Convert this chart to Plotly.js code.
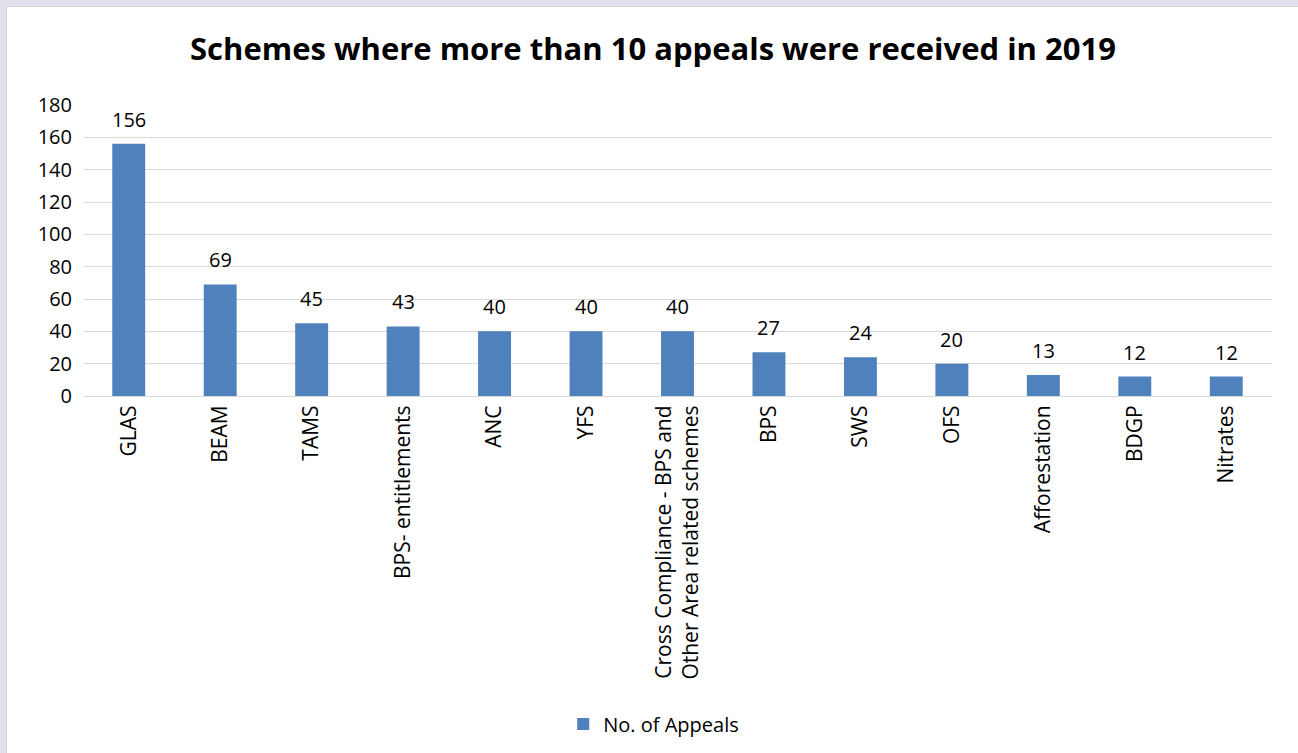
<!DOCTYPE html>
<html>
<head>
<meta charset="utf-8">
<script src="https://cdn.plot.ly/plotly-3.0.1.min.js"></script>
<style>
html,body{margin:0;padding:0;background:#e4dfec;width:1298px;height:753px;overflow:hidden;}
#frame{position:absolute;left:6px;top:6px;width:1292px;height:747px;background:#fff;border-left:1px solid #d6d2dc;border-top:1px solid #d6d2dc;}
#chart{width:1292px;height:747px;}
</style>
</head>
<body>
<div id="frame"><div id="chart"></div></div>
<script>
const categories = ["GLAS","BEAM","TAMS","BPS- entitlements","ANC","YFS","Cross Compliance - BPS and<br>Other Area related schemes","BPS","SWS","OFS","Afforestation","BDGP","Nitrates"];
const appeals = [156,69,45,43,40,40,40,27,24,20,13,12,12];
const seriesName = "No. of Appeals";
const yTicks = [0,20,40,60,80,100,120,140,160,180];

const font = "Open Sans, Liberation Sans, sans-serif";
const trace = {
  type: "bar",
  x: categories,
  y: appeals,
  name: seriesName,
  marker: {color: "#4f81bd"},
  width: 0.36,
  showlegend: true
};
const annotations = categories.map((c, i) => ({
  x: c, y: appeals[i], xref: "x", yref: "y",
  text: String(appeals[i]), showarrow: false,
  yanchor: "bottom", yshift: 9,
  font: {family: font, size: 20, color: "#000"}
}));
const layout = {
  width: 1292, height: 747,
  paper_bgcolor: "#fff", plot_bgcolor: "#fff",
  margin: {l: 76, r: 27, t: 98, b: 357},
  title: {text: "<b>Schemes where more than 10 appeals were received in 2019</b>", font: {family: font, size: 31, color: "#000"}, x: 0.5, xanchor: "center", y: 0.943, yanchor: "middle"},
  xaxis: {tickangle: -90, tickfont: {family: font, size: 21, color: "#000"}, showline: true, linecolor: "#d9d9d9", linewidth: 1, ticks: "", automargin: false},
  yaxis: {range: [0, 180], tickvals: yTicks, tickfont: {family: font, size: 20, color: "#000"}, ticklabelstandoff: 10, gridcolor: "#d9d9d9", gridwidth: 1, zeroline: false, showline: false, ticks: "", automargin: false},
  legend: {orientation: "h", x: 0.48, xanchor: "center", y: -1.12, yanchor: "middle", itemwidth: 30, font: {family: font, size: 20, color: "#000"}},
  annotations: annotations,
  bargap: 0.64
};
Plotly.newPlot("chart", [trace], layout, {displayModeBar: false, staticPlot: true});
</script>
</body>
</html>
